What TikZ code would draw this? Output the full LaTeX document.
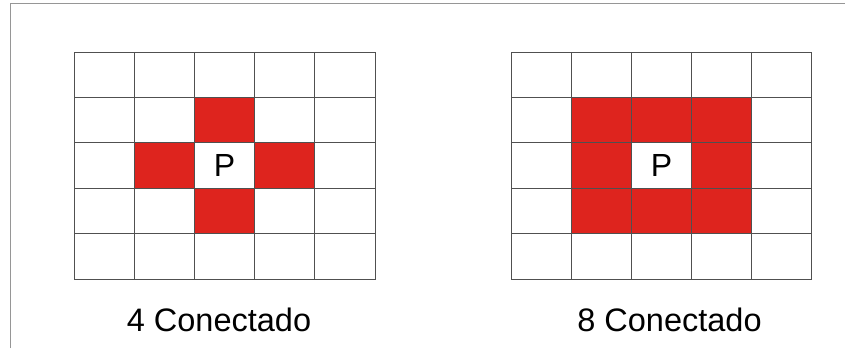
\documentclass[tikz,border=0pt]{standalone}
\usepackage{fontspec}
\setmainfont{Liberation Sans}
\definecolor{cellred}{RGB}{222,36,30}
\definecolor{gridline}{RGB}{80,80,80}
\definecolor{framegray}{RGB}{150,150,150}
\tikzset{
  cellbox/.style={draw=gridline, line width=0.8pt},
  redcell/.style={cellbox, fill=cellred},
  lbl/.style={font=\fontsize{32.5}{36}\selectfont, inner sep=0pt, anchor=base},
  ptext/.style={font=\fontsize{32}{36}\selectfont, inner sep=0pt}
}
\begin{document}
\begin{tikzpicture}[x=1pt,y=-1pt]
\useasboundingbox (0,0) rectangle (845,348);
\fill[white] (0,0) rectangle (845,348);
% frame
\draw[framegray, line width=0.8pt] (10,348) -- (10,3.5) -- (845,3.5);
% grid 1 (4-connected)
\foreach \c in {0,...,4}{
  \foreach \r in {0,...,4}{
    \pgfmathsetmacro{\xa}{74+60.2*\c}
    \pgfmathsetmacro{\ya}{52+45.4*\r}
    \pgfmathtruncatemacro{\dc}{abs(\c-2)}
    \pgfmathtruncatemacro{\dr}{abs(\r-2)}
    \pgfmathtruncatemacro{\isred}{(\dc+\dr==1)?1:0}
    \ifnum\isred=1
      \draw[redcell] (\xa,\ya) rectangle ++(60.2,45.4);
    \else
      \draw[cellbox] (\xa,\ya) rectangle ++(60.2,45.4);
    \fi
  }
}
% grid 2 (8-connected)
\foreach \c in {0,...,4}{
  \foreach \r in {0,...,4}{
    \pgfmathsetmacro{\xa}{511.5+60*\c}
    \pgfmathsetmacro{\ya}{52+45.4*\r}
    \pgfmathtruncatemacro{\dc}{abs(\c-2)}
    \pgfmathtruncatemacro{\dr}{abs(\r-2)}
    \pgfmathtruncatemacro{\isred}{(\dc<2 && \dr<2 && \dc+\dr>0)?1:0}
    \ifnum\isred=1
      \draw[redcell] (\xa,\ya) rectangle ++(60,45.4);
    \else
      \draw[cellbox] (\xa,\ya) rectangle ++(60,45.4);
    \fi
  }
}
\node[ptext] (p1) at (224.5,165) {P};
\node[ptext] (p2) at (661.5,165) {P};
\node[lbl] (l1) at (219,331.5) {4 Conectado};
\node[lbl] (l2) at (669.5,331.5) {8 Conectado};
\end{tikzpicture}
\end{document}
